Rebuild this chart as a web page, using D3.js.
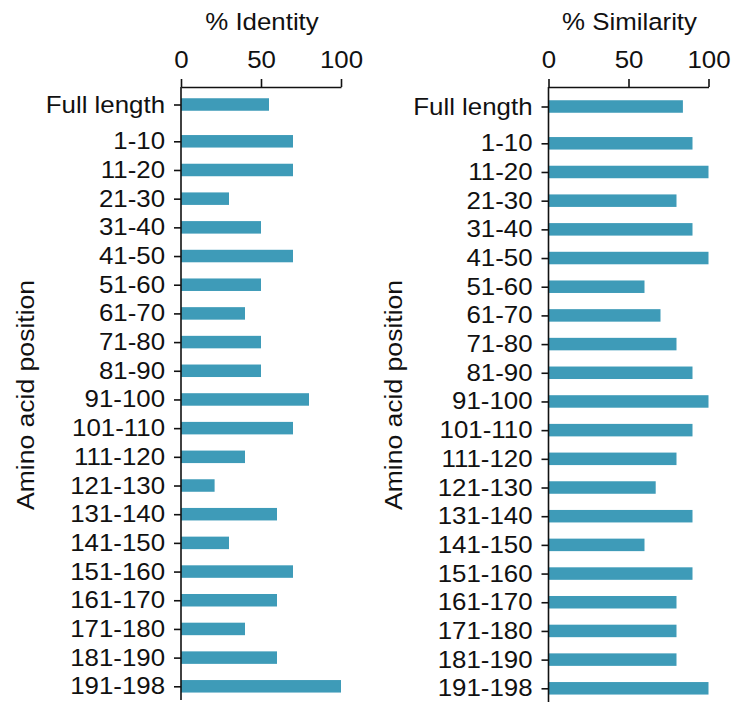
<!DOCTYPE html>
<html lang="en">
<head>
<meta charset="UTF-8">
<title>Identity / Similarity by position</title>
<script src="https://d3js.org/d3.v7.min.js"></script>
<style>
  body { margin: 0; background: #fff; }
  text { font-family: "Liberation Sans", Arial, sans-serif; fill: #111; }
</style>
</head>
<body>
<script>
// categories, top to bottom
const categories = ["Full length", "1-10", "11-20", "21-30", "31-40", "41-50", "51-60", "61-70",
    "71-80", "81-90", "91-100", "101-110", "111-120", "121-130", "131-140", "141-150",
    "151-160", "161-170", "171-180", "181-190", "191-198"];
const segments = categories.slice(1);

// % identity and % similarity per category
const identity = [55, 70, 70, 30, 50, 70, 50, 40, 50, 50, 80, 70, 40, 21, 60, 30, 70, 60, 40, 60, 100];
const similarity = [84, 90, 100, 80, 90, 100, 60, 70, 80, 90, 100, 90, 80, 67, 90, 60, 90, 80, 80, 80, 100];

const xTicks = [0, 50, 100];

const barColor = "#3e9bb8";
const ink = "#111";
const fontSize = 23.5;
const sx = 1.1; // the original type is set a bit wide

const svg = d3.select("body").append("svg")
    .attr("width", 733)
    .attr("height", 704);

function drawPanel(values, title, x0, dy, labelX) {
    const x = d3.scaleLinear().domain([0, 100]).range([x0, x0 + 160]);
    const y = d3.scalePoint().domain(segments).range([141.3 + dy, 686.3 + dy]);
    // "Full length" sits a little apart from the segment rows
    const pos = d => d === categories[0] ? y(segments[0]) - 36.8 : y(d);
    const yAxisScale = d3.scaleOrdinal().domain(categories).range(categories.map(pos));

    const g = svg.append("g");
    const barH = 12.5;

    g.selectAll("rect")
        .data(categories)
        .join("rect")
        .attr("x", x(0))
        .attr("y", d => pos(d) - barH / 2)
        .attr("width", (d, i) => x(values[i]) - x(0))
        .attr("height", barH)
        .attr("fill", barColor);

    // top axis
    const xa = g.append("g")
        .attr("transform", "translate(0,87)")
        .call(d3.axisTop(x).tickValues(xTicks).tickSize(8).tickSizeOuter(0).tickPadding(11));
    xa.attr("font-family", null).attr("font-size", fontSize);
    xa.selectAll("text").attr("transform", `scale(${sx},1)`).attr("fill", ink);

    // left axis with category labels
    const ya = g.append("g")
        .attr("transform", `translate(${x(0)},0)`)
        .call(d3.axisLeft(yAxisScale).tickSize(7).tickPadding(9));
    ya.select(".domain").remove();
    ya.attr("font-family", null).attr("font-size", fontSize);
    ya.selectAll("text")
        .attr("x", -16 / sx)
        .attr("transform", `scale(${sx},1)`)
        .attr("fill", ink);

    g.append("line")
        .attr("x1", x(0)).attr("x2", x(0))
        .attr("y1", 87).attr("y2", 700 + dy);

    g.selectAll("path, line")
        .attr("stroke", ink)
        .attr("stroke-width", 1.6);

    // panel title
    g.append("text")
        .attr("transform", `translate(${x0 + 81},30) scale(${sx},1)`)
        .attr("text-anchor", "middle")
        .attr("font-size", fontSize)
        .text(title);

    // y label
    g.append("text")
        .attr("transform", `translate(${labelX},395) rotate(-90) scale(1.13,1)`)
        .attr("text-anchor", "middle")
        .attr("font-size", fontSize)
        .text("Amino acid position");
}

drawPanel(identity, "% Identity", 181, 0, 33.5);
drawPanel(similarity, "% Similarity", 548.5, 2, 402);
</script>
</body>
</html>
